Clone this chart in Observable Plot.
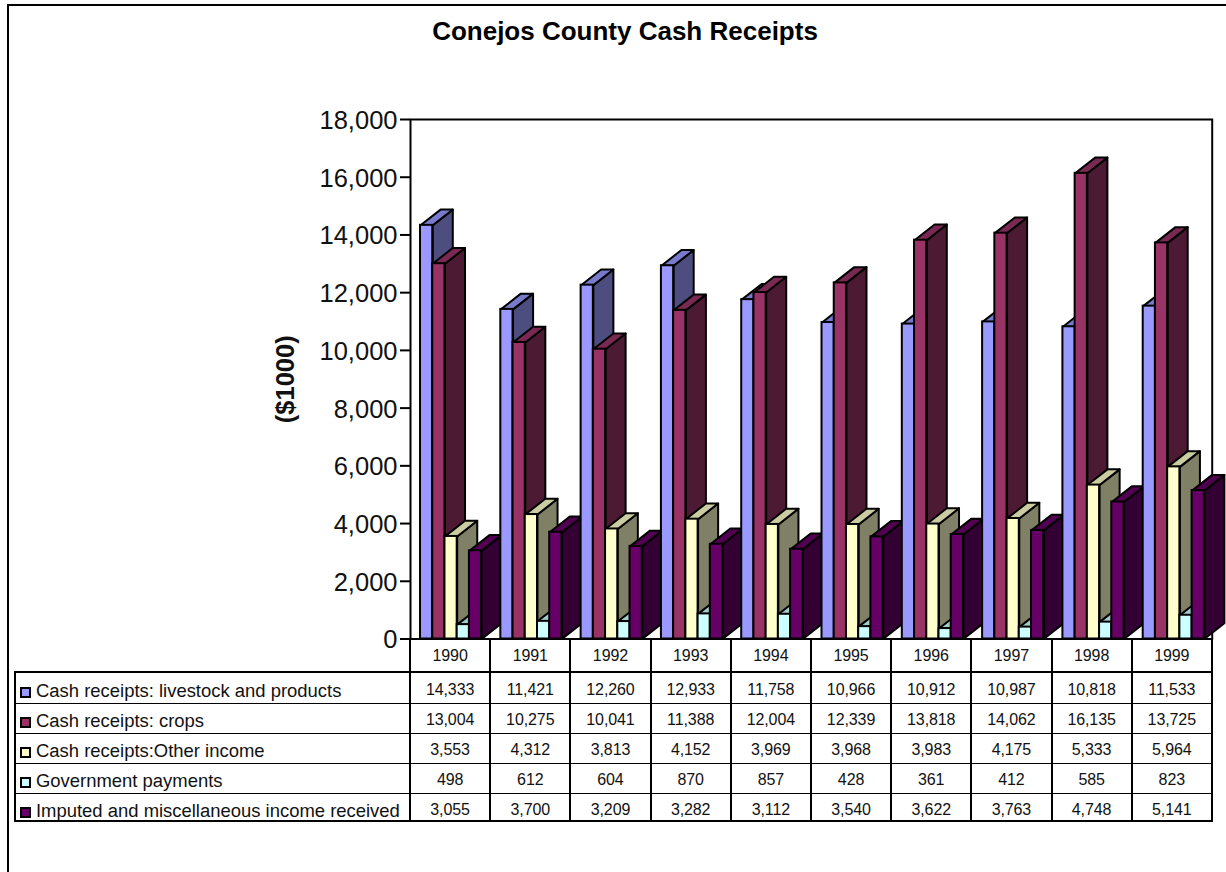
<!DOCTYPE html>
<html>
<head>
<meta charset="utf-8">
<script src="https://cdn.jsdelivr.net/npm/d3@7"></script>
<script src="https://cdn.jsdelivr.net/npm/@observablehq/plot@0.6"></script>
<style>
html,body{margin:0;padding:0;background:#fff;overflow:hidden}
body{width:1226px;height:872px;position:relative;font-family:"Liberation Sans",Arial,sans-serif;color:#111}
#frame{position:absolute;left:7px;top:4px;right:-5px;bottom:-5px;border-left:2px solid #000;border-top:2px solid #000}
#title{position:absolute;left:325px;width:600px;top:16px;text-align:center;font-weight:bold;font-size:26px;line-height:30px;color:#000}
#chart{position:absolute;left:0;top:0}
#chart svg{display:block;background:transparent}
table{position:absolute;left:14px;top:638px;border-collapse:collapse;table-layout:fixed;width:1197px;font-size:16px;letter-spacing:-0.1px}
td{padding:0;text-align:center;border-left:2px solid #000;border-right:2px solid #000;border-top:1px solid #000;border-bottom:1px solid #000;height:30px;line-height:16px;vertical-align:top;padding-top:8px;box-sizing:border-box;white-space:nowrap}
tr.head td{height:33px;padding-top:8px;border-top:2px solid #000;border-bottom:2px solid #000}
tr.head td.blank{border-left:none;border-top:none}
tr.r0 td{height:31px;padding-top:9px}
tr.last td{border-bottom:2px solid #000;height:28px;padding-top:8px}
td.lab{text-align:left;padding-left:4px;font-size:18.45px;letter-spacing:0;padding-top:9px}
tr.r0 td.lab{padding-top:10px}
tr.last td.lab{padding-top:9px}
.sw{display:inline-block;width:11px;height:11px;border:2px solid #000;box-sizing:border-box;margin-right:5px;vertical-align:-1px}
</style>
</head>
<body>
<div id="frame"></div>
<div id="chart"></div>
<div id="title">Conejos County Cash Receipts</div>
<script>
const years = [1990,1991,1992,1993,1994,1995,1996,1997,1998,1999];
const seriesNames = [
  "Cash receipts: livestock and products",
  "Cash receipts: crops",
  "Cash receipts:Other income",
  "Government payments",
  "Imputed and miscellaneous income received"
];
const livestock = [14333,11421,12260,12933,11758,10966,10912,10987,10818,11533];
const crops     = [13004,10275,10041,11388,12004,12339,13818,14062,16135,13725];
const other     = [3553,4312,3813,4152,3969,3968,3983,4175,5333,5964];
const government= [498,612,604,870,857,428,361,412,585,823];
const imputed   = [3055,3700,3209,3282,3112,3540,3622,3763,4748,5141];
const seriesValues = [livestock,crops,other,government,imputed];
const frontColors = ["#9999ff","#993366","#ffffcc","#ccffff","#660066"];
const sideColors  = ["#4d4d80","#4d1a33","#808066","#668080","#330033"];
const topColors   = ["#7a7acc","#7a2952","#cccca3","#a3cccc","#520052"];
const yTicks = [0,2000,4000,6000,8000,10000,12000,14000,16000,18000];

const gap = 0.125, barW = 0.1525, step = 1.0016, depthX = 0.25, depthY = 545;
const fmt = d3.format(",");

const marks = [Plot.frame({stroke:"#000",strokeWidth:2})];
years.forEach((yr,i)=>{
  seriesValues.forEach((vals,s)=>{
    const v = vals[i];
    const x1 = i*step + gap + s*barW, x2 = x1 + barW;
    const side = [
      {x:x2,y:0},{x:x2+depthX,y:depthY},{x:x2+depthX,y:v+depthY},{x:x2,y:v}
    ];
    const top = [
      {x:x1,y:v},{x:x2,y:v},{x:x2+depthX,y:v+depthY},{x:x1+depthX,y:v+depthY}
    ];
    const style = {x:"x",y:"y",stroke:"#000",strokeWidth:2,curve:"linear-closed"};
    marks.push(Plot.line(side,{...style,fill:sideColors[s]}));
    marks.push(Plot.line(top,{...style,fill:topColors[s]}));
    marks.push(Plot.rect([{x1,x2,v}],{x1:"x1",x2:"x2",y1:0,y2:"v",fill:frontColors[s],stroke:"#000",strokeWidth:2}));
  });
});
marks.push(Plot.axisY(yTicks,{tickFormat:()=>"",tickSize:10,strokeWidth:2,stroke:"#000",label:null}));
marks.push(Plot.axisY(yTicks,{tickFormat:fmt,tickSize:0,tickPadding:13,dy:1.3,fontSize:25.5,strokeWidth:0,fill:"#111",label:null}));
marks.push(Plot.text(["($1000)"],{frameAnchor:"left",dx:-124.5,rotate:-90,textAnchor:"middle",fontWeight:"bold",fontSize:25.5,fill:"#111"}));

const chart = Plot.plot({
  width:1226,height:872,
  marginLeft:410,marginRight:14.3,marginTop:119,marginBottom:233.5,
  style:{fontFamily:"'Liberation Sans',Arial,sans-serif",background:"transparent",overflow:"visible"},
  x:{domain:[0,10],axis:null},
  y:{domain:[0,18000],axis:null},
  marks
});
document.getElementById("chart").appendChild(chart);

// data table
const table = document.createElement("table");
const cg = document.createElement("colgroup");
const c0 = document.createElement("col"); c0.style.width="395px"; cg.appendChild(c0);
years.forEach(()=>{const c=document.createElement("col");c.style.width="80.2px";cg.appendChild(c);});
table.appendChild(cg);
const head = table.insertRow(); head.className="head";
head.insertCell().className="blank";
years.forEach(y=>{head.insertCell().textContent=y;});
seriesNames.forEach((n,s)=>{
  const r = table.insertRow();
  r.className = s===0?"r0":(s===seriesNames.length-1?"last":"");
  const c = r.insertCell(); c.className="lab";
  const sw = document.createElement("span"); sw.className="sw"; sw.style.background=frontColors[s];
  c.appendChild(sw); c.appendChild(document.createTextNode(n));
  seriesValues[s].forEach(v=>{r.insertCell().textContent=fmt(v);});
});
document.body.appendChild(table);
</script>
</body>
</html>
